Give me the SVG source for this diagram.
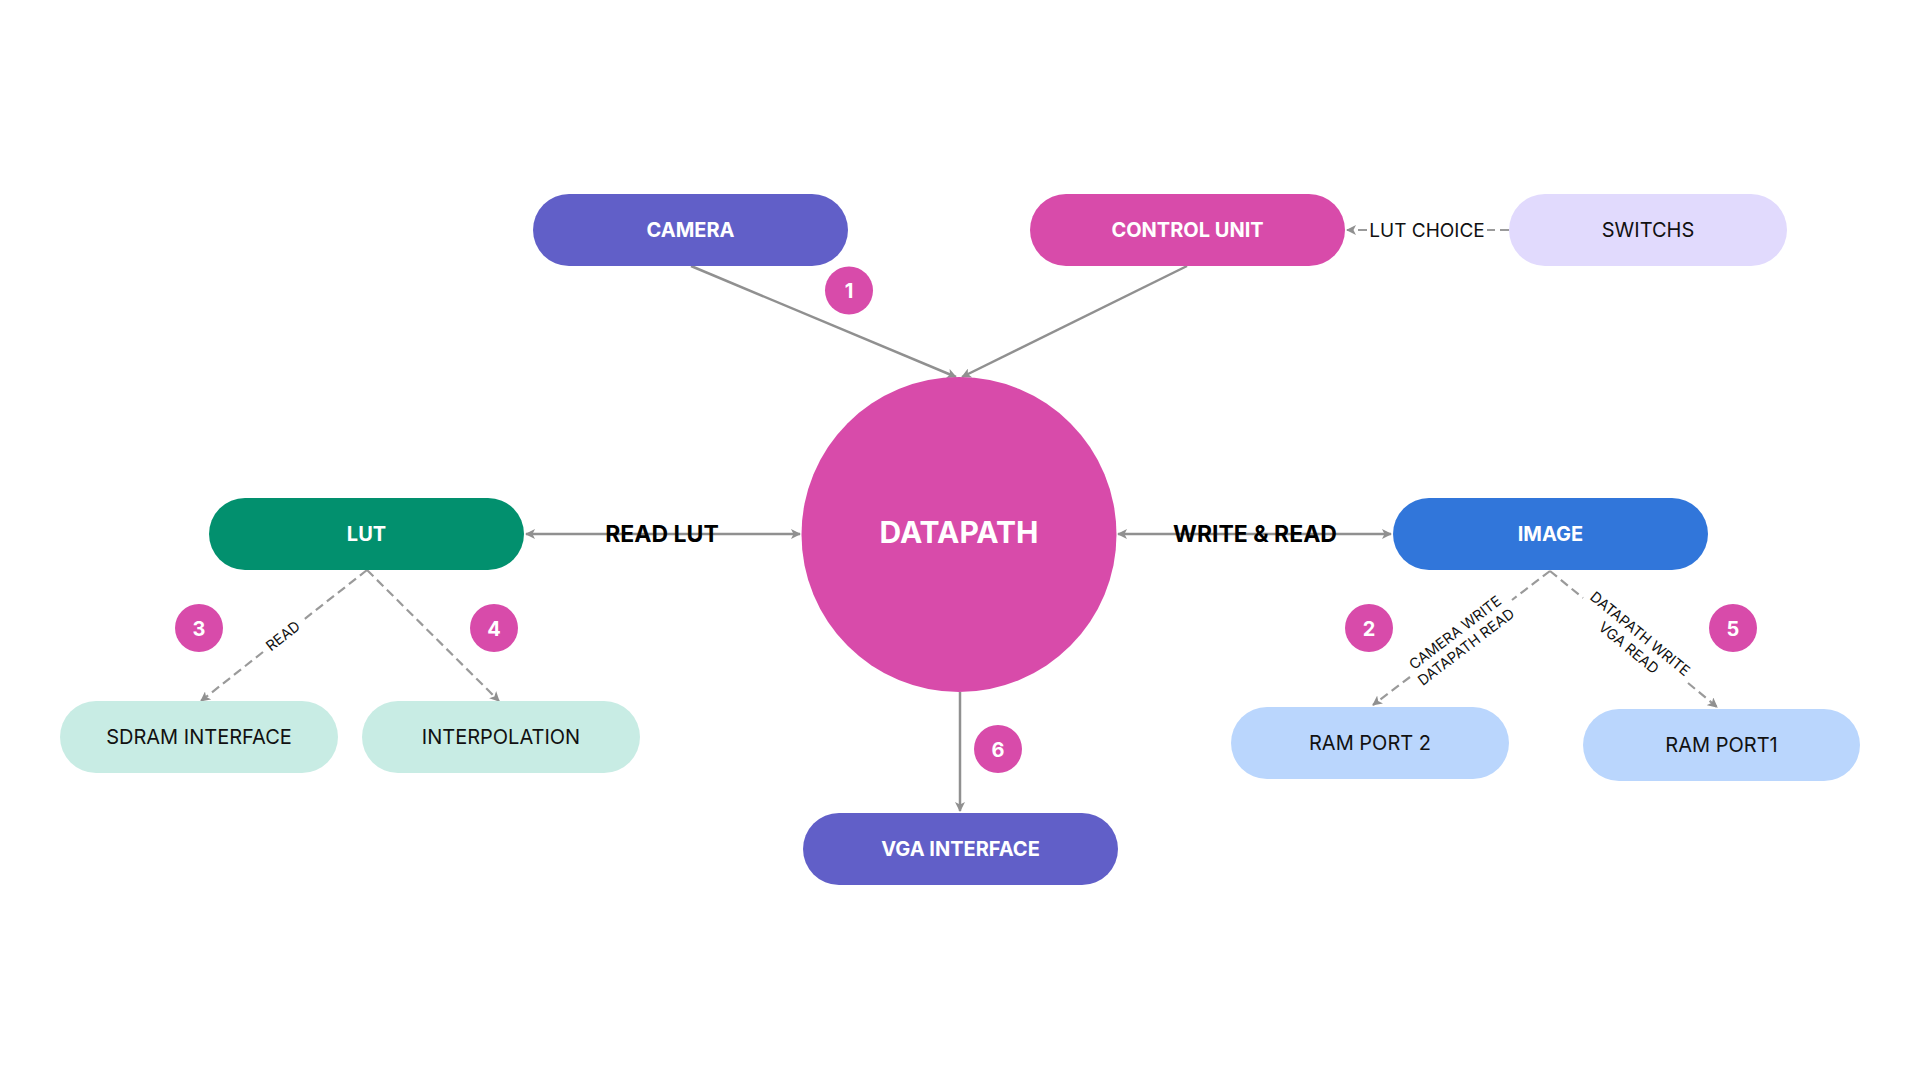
<svg xmlns="http://www.w3.org/2000/svg" width="1920" height="1080" viewBox="0 0 1920 1080">
<defs>
<style>
.t{font-family:Inter,"Noto Sans","Liberation Sans",sans-serif;text-anchor:middle}
.wb{fill:#ffffff;font-weight:700;font-size:20px}
.dk{fill:#111111;font-weight:400;font-size:20px}
.lc{fill:#111111;font-weight:400;font-size:19px}
.lb{fill:#000000;font-weight:700;font-size:23px}
.sm{fill:#111111;font-weight:400;font-size:14.5px}
.solid{fill:none;stroke:#909090;stroke-width:2.5}
.dash{fill:none;stroke:#9a9a9a;stroke-width:2.2;stroke-dasharray:9 5}
.badge{fill:#d84baa}
.bt{fill:#ffffff;font-weight:700;font-size:20px}
</style>
<marker id="ah" viewBox="0 0 10 10" refX="9" refY="5" markerWidth="10" markerHeight="10" markerUnits="userSpaceOnUse" orient="auto-start-reverse">
<path d="M0,0 L10,5 L0,10 L2.5,5 z" fill="#909090"/>
</marker>
</defs>
<rect width="1920" height="1080" fill="#ffffff"/>

<g id="connectors">
<path class="solid" d="M691,266 L956,377" marker-end="url(#ah)"/>
<path class="solid" d="M1187,266 L962,377" marker-end="url(#ah)"/>
<path class="solid" d="M526,534 L800,534" marker-start="url(#ah)" marker-end="url(#ah)"/>
<path class="solid" d="M1118,534 L1391,534" marker-start="url(#ah)" marker-end="url(#ah)"/>
<path class="solid" d="M960,692 L960,811" marker-end="url(#ah)"/>
<path class="dash" d="M1509,230 L1487,230"/>
<path class="dash" d="M1367,230 L1347,230" marker-end="url(#ah)"/>
<path class="dash" d="M367,570 L302,621"/>
<path class="dash" d="M263,652 L201,701" marker-end="url(#ah)"/>
<path class="dash" d="M367,570 L499,701" marker-end="url(#ah)"/>
<path class="dash" d="M1550,571 L1512,600"/>
<path class="dash" d="M1410,677 L1373,705" marker-end="url(#ah)"/>
<path class="dash" d="M1550,571 L1583,598"/>
<path class="dash" d="M1688,683 L1717,707" marker-end="url(#ah)"/>
<text class="t lb" x="662" y="542">READ LUT</text>
<text class="t lb" x="1255" y="542">WRITE &amp; READ</text>
<text class="t lc" x="1427" y="237">LUT CHOICE</text>
<text class="t sm" transform="translate(283,636) rotate(-38.3)" y="5">READ</text>
<g transform="translate(1460,639) rotate(-37.2)">
<text class="t sm" y="-3">CAMERA WRITE</text>
<text class="t sm" y="15">DATAPATH READ</text>
</g>
<g transform="translate(1635,640) rotate(39.2)">
<text class="t sm" y="-3">DATAPATH WRITE</text>
<text class="t sm" y="15">VGA READ</text>
</g>
</g>

<g id="camera">
<rect x="533" y="194" width="315" height="72" rx="36" fill="#615fc8"/>
<text class="t wb" x="690.5" y="237">CAMERA</text>
</g>
<g id="control-unit">
<rect x="1030" y="194" width="315" height="72" rx="36" fill="#d84baa"/>
<text class="t wb" x="1187.5" y="237">CONTROL UNIT</text>
</g>
<g id="switchs">
<rect x="1509" y="194" width="278" height="72" rx="36" fill="#e1dafd"/>
<text class="t dk" x="1648" y="237">SWITCHS</text>
</g>
<g id="datapath">
<circle cx="959" cy="534.5" r="157.5" fill="#d84baa"/>
<text class="t" x="959" y="543" style="fill:#ffffff;font-weight:700;font-size:30px">DATAPATH</text>
</g>
<g id="lut">
<rect x="209" y="498" width="315" height="72" rx="36" fill="#02906e"/>
<text class="t wb" x="366.5" y="541">LUT</text>
</g>
<g id="image">
<rect x="1393" y="498" width="315" height="72" rx="36" fill="#3176da"/>
<text class="t wb" x="1550.5" y="541">IMAGE</text>
</g>
<g id="sdram-interface">
<rect x="60" y="701" width="278" height="72" rx="36" fill="#c8ece4"/>
<text class="t dk" x="199" y="744">SDRAM INTERFACE</text>
</g>
<g id="interpolation">
<rect x="362" y="701" width="278" height="72" rx="36" fill="#c8ece4"/>
<text class="t dk" x="501" y="744">INTERPOLATION</text>
</g>
<g id="ram-port-2">
<rect x="1231" y="707" width="278" height="72" rx="36" fill="#bad6fd"/>
<text class="t dk" x="1370" y="750">RAM PORT 2</text>
</g>
<g id="ram-port1">
<rect x="1583" y="709" width="277" height="72" rx="36" fill="#bad6fd"/>
<text class="t dk" x="1721.5" y="752">RAM PORT1</text>
</g>
<g id="vga-interface">
<rect x="803" y="813" width="315" height="72" rx="36" fill="#615fc8"/>
<text class="t wb" x="960.5" y="856">VGA INTERFACE</text>
</g>

<g id="badge-1"><circle class="badge" cx="849" cy="290.5" r="24"/><text class="t bt" x="849" y="298">1</text></g>
<g id="badge-2"><circle class="badge" cx="1369" cy="628" r="24"/><text class="t bt" x="1369" y="635.5">2</text></g>
<g id="badge-3"><circle class="badge" cx="199" cy="628" r="24"/><text class="t bt" x="199" y="635.5">3</text></g>
<g id="badge-4"><circle class="badge" cx="494" cy="628" r="24"/><text class="t bt" x="494" y="635.5">4</text></g>
<g id="badge-5"><circle class="badge" cx="1733" cy="628" r="24"/><text class="t bt" x="1733" y="635.5">5</text></g>
<g id="badge-6"><circle class="badge" cx="998" cy="749" r="24"/><text class="t bt" x="998" y="756.5">6</text></g>
</svg>
